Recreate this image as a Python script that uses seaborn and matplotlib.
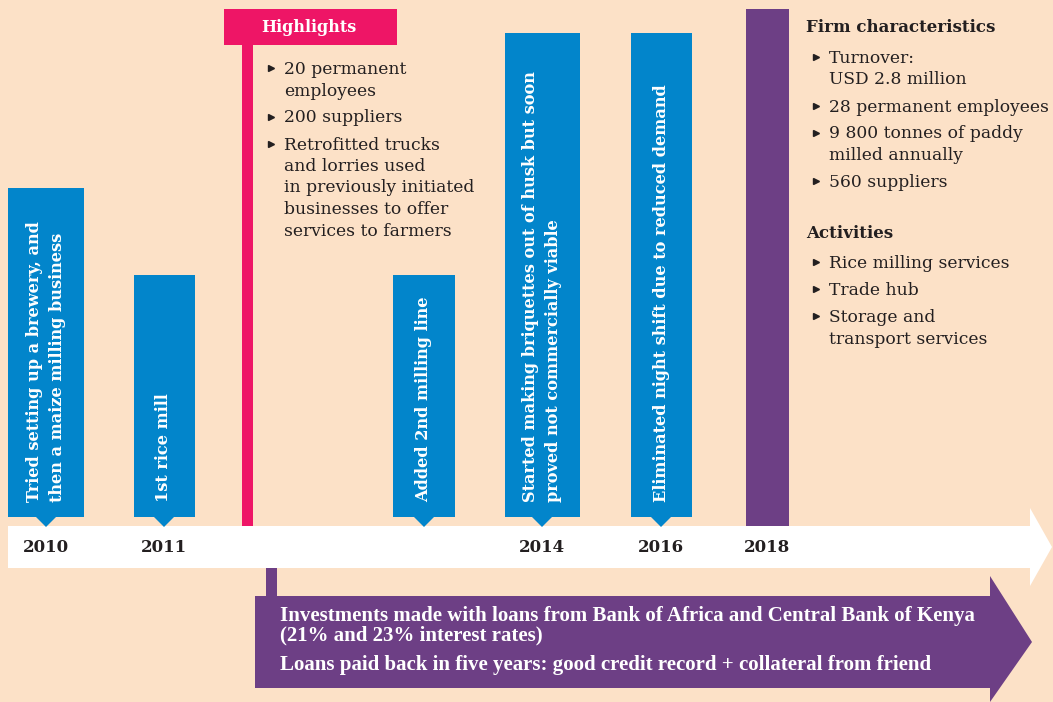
import matplotlib
matplotlib.use("Agg")
import matplotlib.pyplot as plt
import seaborn as sns
from matplotlib.patches import Polygon, Rectangle

# ---- data ----
years = ["2010", "2011", "2014", "2016", "2018"]
event_labels = [
    "Tried setting up a brewery, and\nthen a maize milling business",
    "1st rice mill",
    "Added 2nd milling line",
    "Started making briquettes out of husk but soon\nproved not commercially viable",
    "Eliminated night shift due to reduced demand",
]
event_heights = [329, 242, 242, 484, 484]
highlights = [
    "20 permanent\nemployees",
    "200 suppliers",
    "Retrofitted trucks\nand lorries used\nin previously initiated\nbusinesses to offer\nservices to farmers",
]
firm_characteristics = [
    "Turnover:\nUSD 2.8 million",
    "28 permanent employees",
    "9 800 tonnes of paddy\nmilled annually",
    "560 suppliers",
]
activities = [
    "Rice milling services",
    "Trade hub",
    "Storage and\ntransport services",
]
loan_notes = [
    "Investments made with loans from Bank of Africa and Central Bank of Kenya\n(21% and 23% interest rates)",
    "Loans paid back in five years: good credit record + collateral from friend",
]

# ---- layout / style ----
BG = "#FCE1C7"
BLUE = "#0285CB"
PINK = "#EE1566"
PURPLE = "#6D3F85"
DARK = "#231F20"
SERIF = ["DejaVu Serif"]
event_x = [46, 164, 424, 542, 661]
event_w = [76, 61, 62, 75, 61]
year_x = [46, 164, 542, 661, 767]
BASE = 517

sns.set_theme(style="white")
plt.rcParams["font.family"] = SERIF

fig = plt.figure(figsize=(10.53, 7.02), dpi=100)
fig.patch.set_facecolor(BG)
ax = fig.add_axes([0, 0, 1, 1])
ax.set_facecolor(BG)
ax.set_xlim(0, 1053)
ax.set_ylim(702, 0)
ax.axis("off")

# white timeline arrow
ax.add_patch(Polygon([(8, 526), (1030, 526), (1030, 508), (1052, 547),
                      (1030, 586), (1030, 568), (8, 568)],
                     closed=True, fc="white", ec="none", zorder=1))

# blue event cards
ax.bar(event_x, event_heights, width=event_w,
       bottom=[BASE - h for h in event_heights], color=BLUE,
       linewidth=0, edgecolor="none", zorder=2)
for x, label in zip(event_x, event_labels):
    ax.add_patch(Polygon([(x - 11, BASE - 1), (x + 11, BASE - 1), (x, BASE + 10)],
                         closed=True, fc=BLUE, ec="none", zorder=2))
    ax.text(x, 502, label, rotation=90, ha="center", va="bottom",
            multialignment="left", color="white", fontsize=11.6,
            fontweight="bold", linespacing=1.45, zorder=3)

# 2018 purple bar
ax.bar([767], [517], width=43, bottom=[9], color=PURPLE,
       linewidth=0, edgecolor="none", zorder=2)

# year labels
for x, y in zip(year_x, years):
    ax.text(x, 547, y, ha="center", va="center", fontsize=12,
            fontweight="bold", color=DARK, zorder=3)

# highlights box
ax.add_patch(Rectangle((224, 9), 173, 36, fc=PINK, ec="none", zorder=2))
ax.add_patch(Rectangle((242, 45), 11, 481, fc=PINK, ec="none", zorder=2))
ax.text(261, 27, "Highlights", ha="left", va="center", color="white",
        fontsize=11.5, fontweight="bold", zorder=3)


def bullet_list(items, x, y0, line_h=21.5, gap=27):
    y = y0
    for item in items:
        ax.plot([x], [y], marker=">", ms=5, color=DARK, zorder=3)
        for line in item.split("\n"):
            ax.text(x + 13, y + 6, line, ha="left", va="baseline",
                    fontsize=12.3, color=DARK, zorder=3)
            y += line_h
        y += gap - line_h


bullet_list(highlights, 271, 68)
ax.text(806, 27, "Firm characteristics", ha="left", va="center",
        fontsize=12, fontweight="bold", color=DARK)
bullet_list(firm_characteristics, 816, 57)
ax.text(806, 233, "Activities", ha="left", va="center",
        fontsize=12, fontweight="bold", color=DARK)
bullet_list(activities, 816, 262)

# purple loans arrow
ax.add_patch(Rectangle((266, 568), 11, 30, fc=PURPLE, ec="none", zorder=2))
ax.add_patch(Polygon([(255, 596), (990, 596), (990, 576), (1032, 642),
                      (990, 702), (990, 688), (255, 688)],
                     closed=True, fc=PURPLE, ec="none", zorder=2))
ax.text(280, 606, loan_notes[0], ha="left", va="top", color="white",
        fontsize=15, fontweight="bold", family=["Liberation Serif"],
        linespacing=0.95, zorder=3)
ax.text(280, 665, loan_notes[1], ha="left", va="center", color="white",
        fontsize=15, fontweight="bold", family=["Liberation Serif"], zorder=3)

fig.savefig("out.png", dpi=100, facecolor=BG)
